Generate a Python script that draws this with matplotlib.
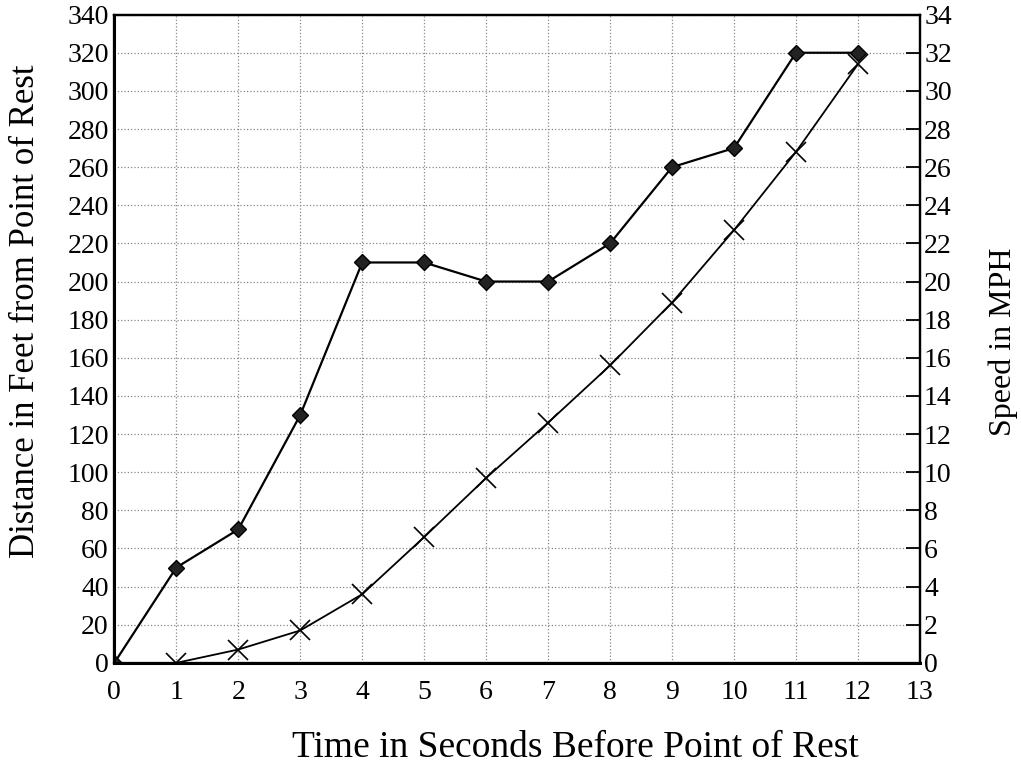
import numpy as np
import matplotlib.pyplot as plt

plt.rcParams['font.family'] = ['Liberation Serif', 'DejaVu Serif']

# time before rest (s)
seconds = [0, 1, 2, 3, 4, 5, 6, 7, 8, 9, 10, 11, 12]
# speed in mph (diamonds, right axis)
speed_mph = [0, 5, 7, 13, 21, 21, 20, 20, 22, 26, 27, 32, 32]
# distance in feet (crosses, left axis)
dist_secs = [1, 2, 3, 4, 5, 6, 7, 8, 9, 10, 11, 12]
dist_feet = [0, 7, 17, 36, 66, 97, 126, 156, 189, 227, 268, 314]

fig = plt.figure(figsize=(10.21, 7.69), dpi=100)
ax = fig.add_axes([0.112, 0.138, 0.789, 0.843])
ax2 = ax.twinx()

ax.set_xlim(0, 13)
ax.set_ylim(0, 340)
ax2.set_ylim(0, 34)

ax.set_xticks(range(0, 14))
ax.set_yticks(range(0, 341, 20))
ax2.set_yticks(range(0, 35, 2))

# dotted grid
ax.grid(True, color='#888888', linestyle=':', linewidth=0.9)
ax.set_axisbelow(True)

ax.plot(dist_secs, dist_feet, color='black', linewidth=1.3,
        marker='x', markersize=14, markeredgewidth=1.2)
ax2.plot(seconds, speed_mph, color='black', linewidth=1.6,
         marker='D', markersize=8, markerfacecolor='#222222')

ax.tick_params(axis='x', length=0, labelsize=20, pad=12)
ax.tick_params(axis='y', length=0, labelsize=20, pad=4)
ax2.tick_params(axis='y', direction='in', length=10, width=1.3, labelsize=20, pad=3)

for a in (ax, ax2):
    for s in a.spines.values():
        s.set_linewidth(1.6)
ax2.spines['left'].set_linewidth(2.2)
ax2.spines['bottom'].set_linewidth(2.2)

ax.set_xlabel('Time in Seconds Before Point of Rest', fontsize=27)
ax.xaxis.set_label_coords(0.572, -0.131)
ax.set_ylabel('Distance in Feet from Point of Rest', fontsize=25)
ax.yaxis.set_label_coords(-0.110, 0.542)
ax2.set_ylabel('Speed in MPH', fontsize=23)
ax2.yaxis.set_label_coords(1.103, 0.495)
ax.xaxis.label.set_va('center')
ax.yaxis.label.set_va('center')
ax2.yaxis.label.set_va('center')

fig.savefig('out.png', dpi=100)
